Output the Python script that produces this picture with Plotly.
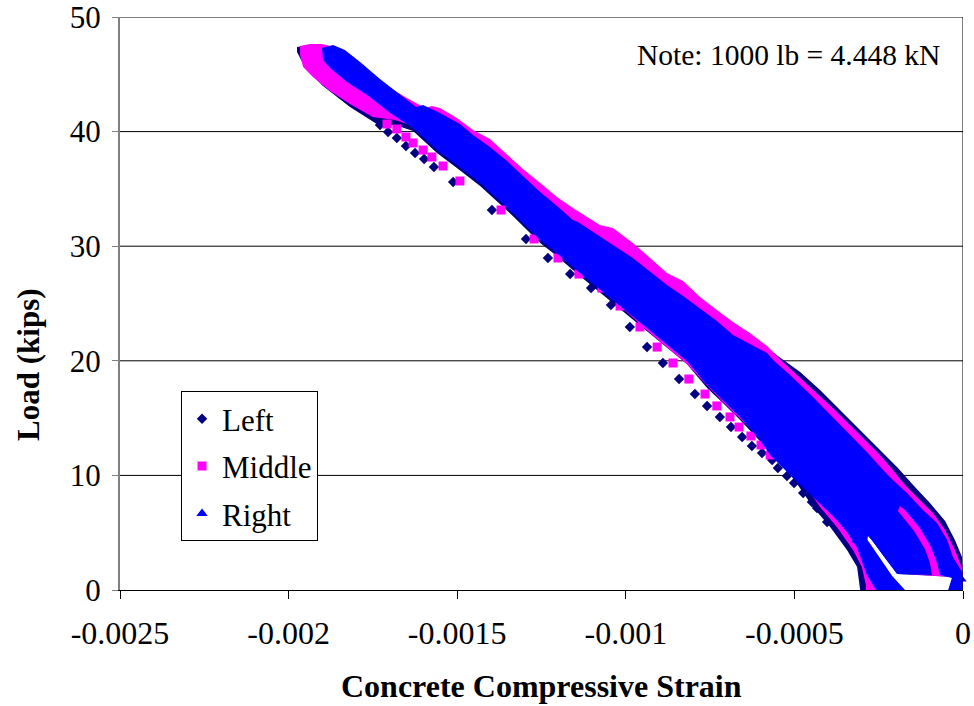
import plotly.graph_objects as go

# ---------------- data (strain, load in kips) ----------------
# Left gauge: dense band outline
left_band_strain = [-0.001975, -0.001922, -0.001862, -0.001670, -0.001453, -0.001254, -0.001077, -0.000780,
                    -0.000543, -0.000483, -0.000424, -0.000365, -0.000305, -0.000246, -0.000193, -0.000148,
                    -0.000098, -0.000053, -0.000024, -0.000003, 0.0, 0.0,
                    -0.000024, -0.000083, -0.000193, -0.000231, -0.000270, -0.000282, -0.000285, -0.000252,
                    -0.000222, -0.000196, -0.000305,
                    -0.000314, -0.000344, -0.000394, -0.000445, -0.000498, -0.000528, -0.000572, -0.000617,
                    -0.000661, -0.000712, -0.000759, -0.000819, -0.000884, -0.000928, -0.001038, -0.001136,
                    -0.001216, -0.001254, -0.001335, -0.001432, -0.001501, -0.001560, -0.001631, -0.001684,
                    -0.001729, -0.001818, -0.001898, -0.001951, -0.001975]
left_band_load = [47.38, 47.64, 47.29, 42.76, 39.88, 35.25, 31.59, 25.31,
                  20.24, 19.02, 17.45, 15.71, 13.96, 12.22, 10.65, 9.16,
                  7.59, 6.02, 4.36, 2.88, 1.75, 1.05,
                  1.13, 1.22, 1.40, 2.79, 4.36, 4.71, 4.19, 2.70,
                  1.22, 0.0, 0.0,
                  2.01, 3.49, 5.50, 7.24, 9.51, 10.65, 12.04, 13.44,
                  14.83, 16.32, 17.63, 19.72, 21.29, 22.43, 25.04, 27.40,
                  29.41, 30.28, 32.64, 35.25, 36.82, 38.13, 40.05, 40.58,
                  40.49, 42.15, 43.98, 45.55, 46.95]

# Left gauge: sparse readings
left_pts_strain = [-0.001729, -0.001705, -0.001679, -0.001652, -0.001625, -0.001598, -0.001569, -0.001512,
                   -0.001397, -0.001296, -0.001231, -0.001165, -0.001103, -0.001044, -0.000988, -0.000937,
                   -0.000890, -0.000842, -0.000795, -0.000759, -0.000721, -0.000688, -0.000655, -0.000626,
                   -0.000596, -0.000566, -0.000549, -0.000522, -0.000501, -0.000474, -0.000448, -0.000433,
                   -0.000403]
left_pts_load = [40.58, 39.97, 39.44, 38.74, 38.13, 37.61, 36.91, 35.60,
                 33.16, 30.63, 28.97, 27.57, 26.35, 24.87, 22.95, 21.20,
                 19.81, 18.41, 17.10, 16.06, 15.10, 14.22, 13.35, 12.57,
                 11.95, 11.34, 10.65, 9.95, 9.34, 8.46, 7.68, 7.16,
                 5.93]

# Middle gauge: dense band outline
middle_band_strain = [-0.001966, -0.001937, -0.001901, -0.001862, -0.001818, -0.001759, -0.001699, -0.001649,
                      -0.001595, -0.001575, -0.001551, -0.001501, -0.001453, -0.001403, -0.001352, -0.001305,
                      -0.001254, -0.001204, -0.001157, -0.001077, -0.001038, -0.000979, -0.000928, -0.000878,
                      -0.000830, -0.000780, -0.000730, -0.000682, -0.000632, -0.000581, -0.000537, -0.000492,
                      -0.000445, -0.000386, -0.000305, -0.000246, -0.000208, -0.000172, -0.000128, -0.000089,
                      -0.000053, -0.000024, -0.000003, 0.0, 0.0,
                      -0.000015, -0.000024, -0.000083, -0.000193, -0.000231, -0.000270, -0.000282, -0.000285,
                      -0.000250, -0.000216, -0.000187, -0.000288,
                      -0.000288, -0.000300, -0.000326, -0.000374, -0.000424, -0.000477, -0.000507, -0.000552,
                      -0.000593, -0.000632, -0.000712, -0.000819, -0.000928, -0.001136, -0.001254, -0.001432,
                      -0.001560, -0.001631, -0.001684, -0.001750, -0.001818, -0.001877, -0.001928, -0.001957,
                      -0.001966]
middle_band_load = [47.47, 47.64, 47.64, 47.38, 46.42, 45.11, 43.81, 42.93,
                    42.06, 42.23, 42.06, 41.19, 40.14, 39.35, 37.96, 36.74,
                    35.52, 34.29, 33.33, 31.85, 31.59, 30.28, 28.97, 27.66,
                    26.96, 25.57, 24.43, 23.39, 22.43, 21.29, 19.98, 18.76,
                    17.45, 15.88, 13.53, 11.78, 10.47, 9.16, 7.85, 6.72,
                    5.24, 3.49, 1.92, 1.05, 0.0,
                    0.0, 1.13, 1.22, 1.48, 2.88, 4.45, 4.89, 4.28,
                    2.70, 1.22, 0.0, 0.0,
                    0.44, 2.01, 3.49, 5.50, 7.24, 9.51, 10.65, 12.04,
                    13.26, 14.14, 16.40, 19.72, 22.43, 27.92, 30.80, 35.78,
                    38.66, 40.49, 41.01, 41.27, 42.41, 43.54, 44.76, 45.64,
                    46.68]

# Middle gauge: sparse readings
middle_pts_strain = [-0.001708, -0.001679, -0.001652, -0.001631, -0.001601, -0.001575, -0.001542, -0.001492,
                     -0.001370, -0.001272, -0.001201, -0.001139, -0.001071, -0.001017, -0.000958, -0.000907,
                     -0.000860, -0.000813, -0.000765, -0.000730, -0.000691, -0.000664, -0.000629, -0.000599,
                     -0.000572]
middle_pts_load = [40.66, 40.23, 39.53, 39.01, 38.39, 37.78, 37.00, 35.69,
                   33.16, 30.63, 28.97, 27.57, 26.35, 24.78, 22.95, 21.20,
                   19.81, 18.41, 17.10, 16.06, 15.10, 14.22, 13.44, 12.65,
                   11.78]

# Right gauge: dense band outline
right_band_strain = [-0.001901, -0.001868, -0.001833, -0.001788, -0.001729, -0.001670, -0.001622, -0.001601,
                     -0.001551, -0.001492, -0.001453, -0.001403, -0.001352, -0.001305, -0.001254, -0.001204,
                     -0.001157, -0.001142, -0.001077, -0.001038, -0.000979, -0.000928, -0.000878, -0.000830,
                     -0.000780, -0.000730, -0.000682, -0.000632, -0.000581, -0.000563, -0.000513, -0.000445,
                     -0.000365, -0.000285, -0.000237, -0.000208, -0.000166, -0.000119, -0.000077, -0.000047,
                     -0.000030, -0.000009, -0.000002, 0.0, -0.000044, -0.000033, -0.000068,
                     -0.000080, -0.000098, -0.000128, -0.000172, -0.000187, -0.000193, -0.000145, -0.000113,
                     -0.000098, -0.000092,
                     -0.000196, -0.000231, -0.000270, -0.000282, -0.000285, -0.000246, -0.000210, -0.000172,
                     -0.000258,
                     -0.000285, -0.000314, -0.000344, -0.000380, -0.000445, -0.000513, -0.000572, -0.000602,
                     -0.000661, -0.000712, -0.000759, -0.000819, -0.000884, -0.000928, -0.001038, -0.001136,
                     -0.001216, -0.001254, -0.001335, -0.001432, -0.001501, -0.001560, -0.001631, -0.001699,
                     -0.001767, -0.001827, -0.001877, -0.001898]
right_band_load = [47.29, 47.56, 47.12, 46.07, 44.59, 43.20, 42.15, 42.32,
                   41.62, 40.66, 39.71, 38.66, 37.43, 36.13, 34.73, 33.51,
                   32.29, 32.11, 30.89, 30.10, 28.97, 27.75, 26.61, 25.65,
                   24.52, 23.47, 22.25, 21.47, 20.68, 20.07, 18.76, 16.84,
                   14.40, 12.04, 10.47, 9.60, 8.46, 6.98, 5.85, 4.36,
                   2.88, 1.92, 1.57, 0.0, 0.0, 1.05, 1.31,
                   2.62, 3.93, 5.41, 6.98, 7.33, 6.89, 5.15, 3.58,
                   2.36, 1.31,
                   1.40, 2.79, 4.36, 4.80, 4.45, 2.79, 1.22, 0.0,
                   0.0,
                   1.31, 3.66, 5.06, 6.28, 8.12, 10.03, 11.78, 13.09,
                   15.10, 16.58, 17.89, 19.98, 21.55, 22.69, 25.31, 27.66,
                   29.67, 30.54, 32.90, 35.52, 37.09, 38.39, 40.31, 41.62,
                   43.20, 44.33, 45.55, 46.25]

# Right gauge: individually visible readings
right_pts_strain = [-0.000314, -0.000291, -0.000276, -0.000261, -0.000018, -0.000006]
right_pts_load = [4.36, 4.01, 3.23, 2.44, 0.35, 0.96]

x_tick_vals = [-0.0025, -0.002, -0.0015, -0.001, -0.0005, 0]
x_tick_text = ["-0.0025", "-0.002", "-0.0015", "-0.001", "-0.0005", "0"]
y_tick_vals = [0, 10, 20, 30, 40, 50]
y_tick_text = ["0", "10", "20", "30", "40", "50"]

NAVY = "#000080"
MAGENTA = "#FF00FF"
BLUE = "#0000FF"
FONT = "Liberation Serif, Times New Roman, serif"

fig = go.Figure()

def band(xs, ys, color):
    fig.add_trace(go.Scatter(x=xs, y=ys, mode="lines", fill="toself", fillcolor=color,
                             line=dict(width=0, color=color), showlegend=False, hoverinfo="skip"))

band(left_band_strain, left_band_load, NAVY)
fig.add_trace(go.Scatter(x=left_pts_strain, y=left_pts_load, mode="markers", name="Left",
                         legendgroup="a", cliponaxis=False,
                         marker=dict(symbol="diamond", size=8, color=NAVY)))
band(middle_band_strain, middle_band_load, MAGENTA)
fig.add_trace(go.Scatter(x=middle_pts_strain, y=middle_pts_load, mode="markers", name="Middle",
                         legendgroup="b", cliponaxis=False,
                         marker=dict(symbol="square", size=9, color=MAGENTA)))
band(right_band_strain, right_band_load, BLUE)
fig.add_trace(go.Scatter(x=right_pts_strain, y=right_pts_load, mode="markers", name="Right",
                         legendgroup="c", cliponaxis=False,
                         marker=dict(symbol="triangle-up", size=10, color=BLUE)))

shapes = []
for v in [10, 20, 30, 40]:
    shapes.append(dict(type="line", xref="paper", yref="y", x0=0, x1=1, y0=v, y1=v,
                       line=dict(color="black", width=1), layer="below"))
shapes.append(dict(type="line", xref="paper", yref="y", x0=0, x1=1, y0=50, y1=50,
                   line=dict(color="#808080", width=2), layer="above"))
shapes.append(dict(type="line", xref="x", yref="paper", x0=0, x1=0, y0=0, y1=1,
                   line=dict(color="black", width=1), layer="above"))

fig.update_layout(
    width=974, height=706,
    margin=dict(l=120, r=11, t=17, b=116, autoexpand=False),
    paper_bgcolor="white", plot_bgcolor="white",
    font=dict(family=FONT, size=31, color="black"),
    xaxis=dict(range=[-0.0025, 0], tickmode="array", tickvals=x_tick_vals, ticktext=x_tick_text,
               ticks="outside", ticklen=8, tickcolor="black", tickwidth=1, automargin=False,
               showline=True, linecolor="black", linewidth=1, showgrid=False, zeroline=False,
               ticklabeloverflow="allow",
               tickfont=dict(family=FONT, size=32), ticklabelstandoff=7),
    yaxis=dict(range=[0, 50], tickmode="array", tickvals=y_tick_vals, ticktext=y_tick_text,
               ticks="outside", ticklen=6, tickcolor="#808080", tickwidth=1, automargin=False,
               showline=True, linecolor="#808080", linewidth=2, showgrid=False, zeroline=False,
               ticklabeloverflow="allow",
               tickfont=dict(family=FONT, size=31), ticklabelstandoff=5),
    legend=dict(x=0.0724, y=0.347, xanchor="left", yanchor="top", bgcolor="white",
                bordercolor="black", borderwidth=1, tracegroupgap=4, traceorder="grouped",
                font=dict(family=FONT, size=31, color="black")),
    shapes=shapes,
    annotations=[
        dict(text="<b>Concrete Compressive Strain</b>", xref="paper", yref="paper", x=0.5, y=-0.1675,
             xanchor="center", yanchor="middle", showarrow=False, font=dict(family=FONT, size=32)),
        dict(text="<b>Load (kips)</b>", xref="paper", yref="paper", x=-0.108, y=0.3927, textangle=-90,
             xanchor="center", yanchor="middle", showarrow=False, font=dict(family=FONT, size=31)),
        dict(text="Note: 1000 lb = 4.448 kN", xref="paper", yref="paper", x=0.9755, y=0.9337,
             xanchor="right", yanchor="middle", showarrow=False, font=dict(family=FONT, size=29.5)),
    ],
)

fig.write_html("out.html")
